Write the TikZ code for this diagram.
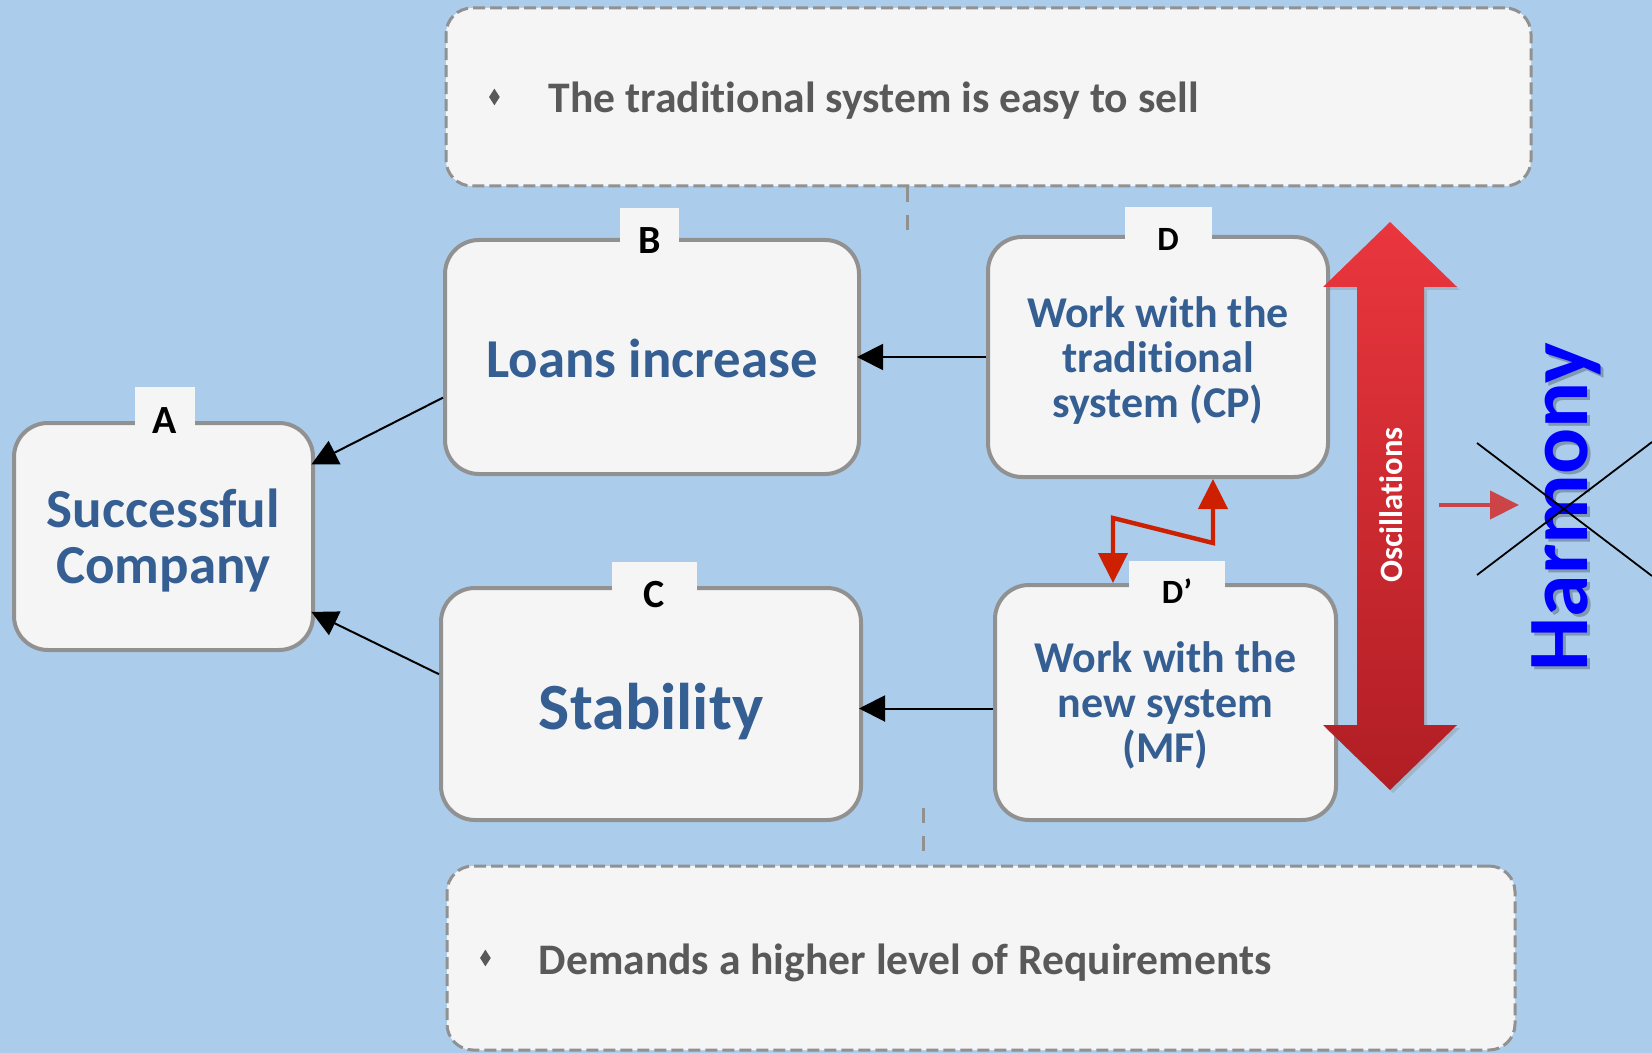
\documentclass[tikz,border=0pt]{standalone}
\usepackage{fontspec}
\setmainfont{Carlito}[Ligatures=NoCommon]
\usetikzlibrary{arrows.meta,shapes.geometric,shadows,positioning}

\definecolor{bgblue}{RGB}{171,205,235}
\definecolor{boxfill}{RGB}{245,245,245}
\definecolor{boxline}{RGB}{145,145,145}
\definecolor{boxtext}{RGB}{53,94,146}
\definecolor{notegray}{RGB}{89,89,89}
\definecolor{zigred}{RGB}{204,32,0}
\definecolor{osctop}{RGB}{234,54,62}
\definecolor{oscbot}{RGB}{176,30,36}
\definecolor{pointred}{RGB}{204,68,72}
\definecolor{harmblue}{RGB}{0,0,255}

\tikzset{
  bigbox/.style={draw=boxline, line width=2pt, fill=boxfill, rounded corners=17pt, inner sep=0pt},
  boxwords/.style={text=boxtext, align=center, inner sep=0pt},
  tabbox/.style={fill=boxfill, inner sep=0pt, minimum height=#1},
  tablabel/.style={text=black, inner sep=0pt},
  notebox/.style={draw=boxline, line width=1.5pt, dash pattern=on 6pt off 2.5pt, fill=boxfill, rounded corners=13pt, inner sep=0pt},
  notetext/.style={font=\fontsize{21.8}{26}\selectfont\bfseries, text=notegray, inner sep=0pt},
  notebullet/.style={diamond, fill=notegray, inner sep=0pt, minimum width=5.5pt, minimum height=8.5pt},
  notelink/.style={draw=boxline, line width=1.5pt, dash pattern=on 7.5pt off 6.5pt},
  link/.style={-{Triangle[length=13pt,width=13pt]}, line width=1pt, shorten >=-2pt},
  flipflop/.style={{Triangle[length=15pt,width=14.5pt]}-{Triangle[length=15pt,width=14.5pt]}, line width=2.2pt, draw=zigred, line join=miter},
  pointer/.style={-{Triangle[length=14.5pt,width=14pt]}, line width=2pt, draw=pointred},
  crossline/.style={line width=0.9pt, draw=black},
  osctext/.style={rotate=90, text=white, inner sep=0pt, font=\fontsize{16.3}{18}\selectfont\bfseries},
  harmtext/.style={rotate=90, anchor=base west, text=harmblue, inner sep=0pt, font=\fontsize{43}{43}\selectfont\bfseries},
}

\begin{document}
\begin{tikzpicture}[x=0.5pt, y=-0.5pt]
    \useasboundingbox (0,0) rectangle (1652,1053);
    \fill[bgblue] (0,0) rectangle (1652,1053);

    % notes above and below
    \node[notebox, minimum width=542.5pt, minimum height=89pt] (topnote) at (988.5,97) {};
    \node[notebullet, right=22pt of topnote.west] (topdot) {};
    \node[notetext, right=24pt of topdot, yshift=-2pt] (toptext) {The traditional system is easy to sell};
    \node[notebox, minimum width=534pt, minimum height=92pt] (botnote) at (981,958) {};
    \node[notebullet, right=17pt of botnote.west] (botdot) {};
    \node[notetext, right=23.5pt of botdot, yshift=-2.5pt] (bottext) {Demands a higher level of Requirements};

    % main boxes
    \node[bigbox, minimum width=149.5pt, minimum height=113.5pt] (A) at (163.5,536.5) {};
    \node[bigbox, minimum width=207pt, minimum height=117pt] (B) at (652,357) {};
    \node[bigbox, minimum width=210pt, minimum height=116pt] (C) at (651,704) {};
    \node[bigbox, minimum width=170pt, minimum height=120pt] (D) at (1158,357) {};
    \node[bigbox, minimum width=170.5pt, minimum height=117.5pt] (Dp) at (1165.5,702.5) {};

    \node[boxwords, font=\fontsize{27.5}{28}\selectfont\bfseries] (Atext) at ([yshift=-2pt]A.center) {Successful\\Company};
    \node[boxwords, font=\fontsize{27.4}{30}\selectfont\bfseries] (Btext) at ([yshift=-0.5pt]B.center) {Loans increase};
    \node[boxwords, font=\fontsize{33}{36}\selectfont\bfseries] (Ctext) at ([yshift=-3.7pt]C.center) {Stability};
    \node[boxwords, font=\fontsize{22}{22.5}\selectfont\bfseries] (Dtext) at ([yshift=-1.6pt]D.center) {Work with the\\traditional\\system (CP)};
    \node[boxwords, font=\fontsize{22}{22.5}\selectfont\bfseries] (Dptext) at ([yshift=-1.6pt]Dp.center) {Work with the\\new system\\(MF)};

    % letter tabs
    \foreach \bx/\name/\w/\h/\dx/\dy/\fs in {A/A/30/20/0.75/0/20, B/B/29.5/18/-1.25/-1.5/20, C/C/42.5/15/1.5/-4.5/20, D/D/43.5/17/5/-2/17, Dp/D’/48/14/5.75/-4/17}{
        \node[tabbox=\h pt, minimum width=\w pt, anchor=south] (tab\bx) at ([xshift=\dx pt, yshift=-3pt]\bx.north) {};
        \node[tablabel, font=\fontsize{\fs}{\fs}\selectfont\bfseries] (lbl\bx) at ([xshift=\dx pt, yshift=\dy pt]\bx.north) {\name};
    }

    % dashed ties to the notes
    \coordinate (topend) at (907,240);
    \draw[notelink] (topnote.south -| topend) -- (topend);
    \coordinate (botstart) at (923,808);
    \coordinate (botend) at (923,852);
    \draw[notelink] (botstart) -- (botend);

    % arrows
    \draw[link] (D.west) -- (B.east);
    \draw[link] ([yshift=-3pt]Dp.west) -- ([yshift=-3pt]Dp.west -| C.east);
    \draw[link] (B.191) -- (A.26.5);
    \draw[link] (C.172) -- (A.-27);

    % switching between the systems
    \coordinate (zzl) at (1113,518);
    \coordinate (zzr) at (1213,543);
    \draw[flipflop] (zzl |- Dp.north) -- (zzl) -- (zzr) -- (zzr |- D.south);

    % oscillations
    \path[top color=osctop, bottom color=oscbot, drop shadow={opacity=0.3, shadow xshift=1.5pt, shadow yshift=-1.5pt}]
        (1390,222) -- (1457,287) -- (1424,287) -- (1424,725) -- (1457,725) -- (1390,790)
        -- (1323,725) -- (1357,725) -- (1357,287) -- (1323,287) -- cycle;
    \node[osctext] (osc) at (1391,505) {Oscillations};

    % harmony, crossed out
    \coordinate (hstart) at (1439,505);
    \coordinate (hend) at (1519,505);
    \draw[pointer] (hstart) -- (hend);
    \node[harmtext, text=black, opacity=0.25] (harmshade) at (1590,675) {Harmony};
    \node[harmtext] (harm) at (1587,672) {Harmony};
    \coordinate (crossA) at (1477,443);
    \coordinate (crossB) at (1652,576);
    \coordinate (crossC) at (1477,575);
    \coordinate (crossD) at (1652,442);
    \draw[crossline] (crossA) -- (crossB);
    \draw[crossline] (crossC) -- (crossD);
\end{tikzpicture}
\end{document}
